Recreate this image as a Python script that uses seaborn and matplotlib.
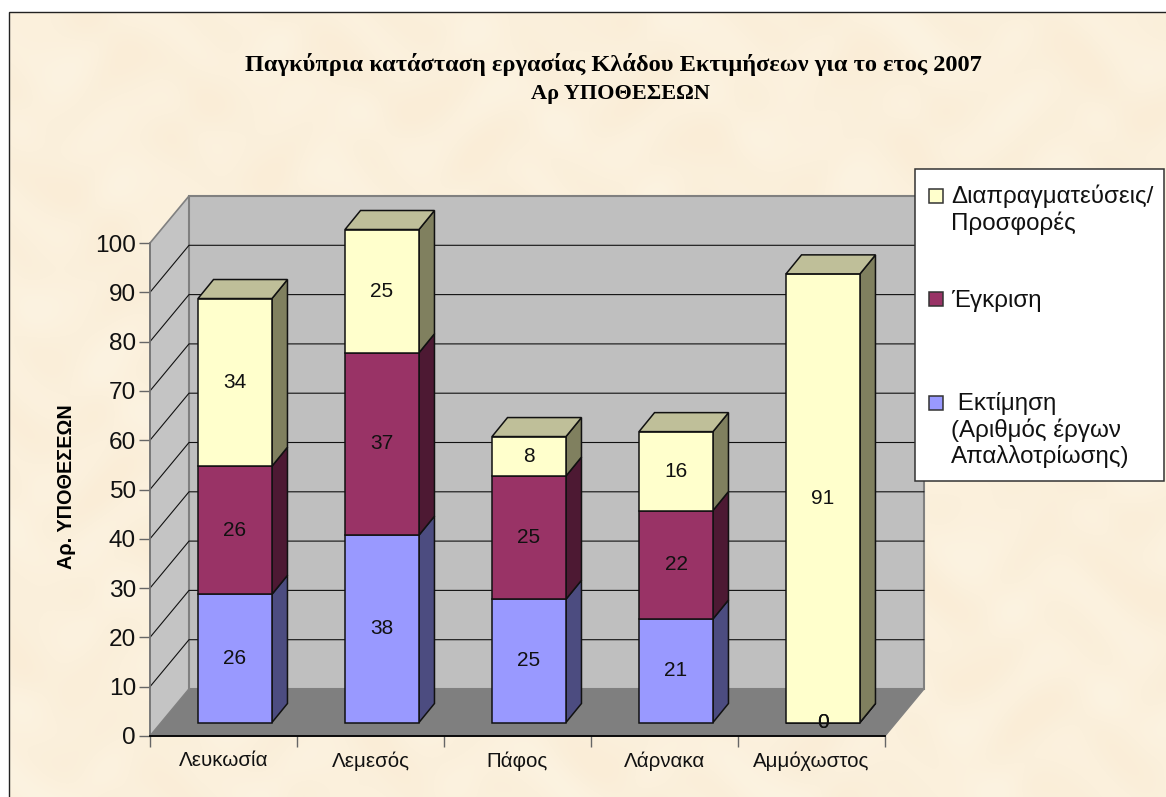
import numpy as np
import matplotlib
matplotlib.use('Agg')
import matplotlib.pyplot as plt
from matplotlib.patches import Polygon, Rectangle
import seaborn as sns

regions = ['Λευκωσία', 'Λεμεσός', 'Πάφος', 'Λάρνακα', 'Αμμόχωστος']
ektimisi = [26, 38, 25, 21, 0]
egkrisi = [26, 37, 25, 22, 0]
diapragmateuseis = [34, 25, 8, 16, 91]
y_ticks = [0, 10, 20, 30, 40, 50, 60, 70, 80, 90, 100]

title_line1 = 'Παγκύπρια κατάσταση εργασίας Κλάδου Εκτιμήσεων για το ετος 2007'
title_line2 = 'Αρ ΥΠΟΘΕΣΕΩΝ'
y_title = 'Αρ. ΥΠΟΘΕΣΕΩΝ'
legend_labels = [' Εκτίμηση\n(Αριθμός έργων\nΑπαλλοτρίωσης)', 'Έγκριση', 'Διαπραγματεύσεις/\nΠροσφορές']

W, H = 1166, 797
XU = 147.0   # pixels per category
YU = 4.93    # pixels per value

sns.set_theme(style='white')
plt.rcParams['font.family'] = ['Liberation Sans', 'DejaVu Sans']

fig = plt.figure(figsize=(W / 100, H / 100), dpi=100, facecolor='white')

# soft parchment mottling behind the chart
yy, xx = np.mgrid[0:H - 12, 0:W - 9]
mottle = (np.sin(xx / 17.0 + np.sin(yy / 31.0) * 2.1) + np.sin(yy / 13.0 + np.sin(xx / 29.0) * 2.4)
          + np.sin((xx + yy) / 37.0)) / 3.0
parchment = np.dstack([251 + mottle * 1, 240 + mottle * 3, 220 + mottle * 5]) / 255.0
fig.figimage(np.clip(parchment, 0, 1), xo=9, yo=0, origin='lower', zorder=-2)
fig.add_artist(Rectangle((9 / W, -0.1), 1.2, 1.1 - 12 / H, transform=fig.transFigure,
                         facecolor='none', edgecolor='#222222', linewidth=1.0, zorder=-1))

ax = fig.add_axes([150 / W, (H - 736) / H, 735 / W, 493 / H])
ax.patch.set_visible(False)

# depth of the fake 3d box
wall_dx, wall_dy = 39 / XU, 47 / YU
bar_dx, bar_dy = 11.5 / XU, 13.5 / YU
side_dx, side_dy = 15.5 / XU, 19 / YU
x0, x1 = -0.5, 4.5

grey = '#808080'
ax.add_patch(Polygon([(x0, 0), (x0 + wall_dx, wall_dy), (x1 + wall_dx, wall_dy), (x1, 0)],
                     facecolor='#7F7F7F', edgecolor=grey, linewidth=1, zorder=0.3, clip_on=False))
ax.add_patch(Polygon([(x0, 0), (x0 + wall_dx, wall_dy), (x0 + wall_dx, 100 + wall_dy), (x0, 100)],
                     facecolor='#C4C4C4', edgecolor=grey, linewidth=1.2, zorder=0.3, clip_on=False))
ax.add_patch(Rectangle((x0 + wall_dx, wall_dy), x1 - x0, 100,
                       facecolor='#BFBFBF', edgecolor=grey, linewidth=1.5, zorder=0.3, clip_on=False))
for v in y_ticks[1:-1]:
    ax.plot([x0, x0 + wall_dx, x1 + wall_dx], [v, v + wall_dy, v + wall_dy],
            color='#111111', linewidth=0.8, zorder=0.4, clip_on=False)

series = [
    (ektimisi, '#9999FF', '#4C4C80', '#7373BF'),
    (egkrisi, '#993366', '#4D1933', '#73264D'),
    (diapragmateuseis, '#FFFFCC', '#80805F', '#BFBF99'),
]

bottoms = np.zeros(len(regions))
for i, (values, face, side, top) in enumerate(series):
    n_before = len(ax.containers)
    sns.barplot(x=regions, y=values, bottom=bottoms, color=face, saturation=1, width=0.503,
                edgecolor='#111111', linewidth=1.1, ax=ax)
    cont = ax.containers[n_before]
    for p, val in zip(cont.patches, values):
        p.set_x(p.get_x() + bar_dx)
        p.set_y(p.get_y() + bar_dy)
        p.set_zorder(2 + i)
        p.set_clip_on(False)
        xl, xr = p.get_x(), p.get_x() + p.get_width()
        yb, yt = p.get_y(), p.get_y() + p.get_height()
        ax.add_patch(Polygon([(xr, yb), (xr + side_dx, yb + side_dy), (xr + side_dx, yt + side_dy), (xr, yt)],
                             facecolor=side, edgecolor='#111111', linewidth=1.1,
                             zorder=1 + i, clip_on=False))
        if i == len(series) - 1:
            ax.add_patch(Polygon([(xl, yt), (xl + side_dx, yt + side_dy), (xr + side_dx, yt + side_dy), (xr, yt)],
                                 facecolor=top, edgecolor='#111111', linewidth=1.1,
                                 zorder=2 + i, clip_on=False))
        ax.text((xl + xr) / 2, (yb + yt) / 2, str(val), ha='center', va='center',
                fontsize=15, color='#111111', zorder=10, clip_on=False)
    bottoms = bottoms + np.array(values)

ax.set_xlim(x0, x1)
ax.set_ylim(0, 100)
ax.set_yticks(y_ticks)
ax.set_xticks(np.arange(len(regions)))
ax.set_xticklabels(regions, fontsize=14.8, color='#111111')
ax.set_xticks(np.arange(len(regions) + 1) - 0.5, minor=True)
ax.tick_params(axis='x', which='major', length=0, pad=11)
ax.tick_params(axis='x', which='minor', length=8, width=1, color='#666666', bottom=True)
ax.tick_params(axis='y', length=8, width=1, color='#666666', labelsize=17.6, labelcolor='#111111', pad=2, left=True)
ax.set_ylabel(y_title, fontsize=14.3, fontweight='bold', color='black', labelpad=0)
ax.yaxis.set_label_coords((76 - 150) / 735, 0.5 + (736 - 487 - 246.5) / 493)
for s in ['top', 'right']:
    ax.spines[s].set_visible(False)
ax.spines['bottom'].set_color('black')
ax.spines['bottom'].set_linewidth(1.3)
ax.spines['left'].set_color('#777777')
ax.spines['left'].set_linewidth(1.2)
for s in ax.spines.values():
    s.set_zorder(1)

serif = ['Liberation Serif', 'DejaVu Serif']
fig.text(613 / W, 1 - 64 / H, title_line1, ha='center', va='center', fontsize=17.6, fontweight='bold',
         family=serif, color='black')
fig.text(620 / W, 1 - 94 / H, title_line2, ha='center', va='center', fontsize=16, fontweight='bold',
         family=serif, color='black')

# legend box, handles sit on the first line of each label
leg_y = [403, 299, 196]
text_top = [392, 290, 185]
fig.add_artist(Rectangle((915 / W, 1 - 481 / H), 249 / W, 312 / H, transform=fig.transFigure,
                         facecolor='white', edgecolor='#333333', linewidth=1.1, zorder=20))
for (values, face, side, top), label, y, ty in zip(series, legend_labels, leg_y, text_top):
    fig.add_artist(Rectangle((929 / W, 1 - (y + 7) / H), 14 / W, 14 / H, transform=fig.transFigure,
                             facecolor=face, edgecolor='#333333', linewidth=1.1, zorder=21))
    fig.text(951 / W, 1 - ty / H, label, ha='left', va='top', fontsize=17.4, color='#111111',
             linespacing=1.17, zorder=22)

fig.savefig('out.png', dpi=100)
